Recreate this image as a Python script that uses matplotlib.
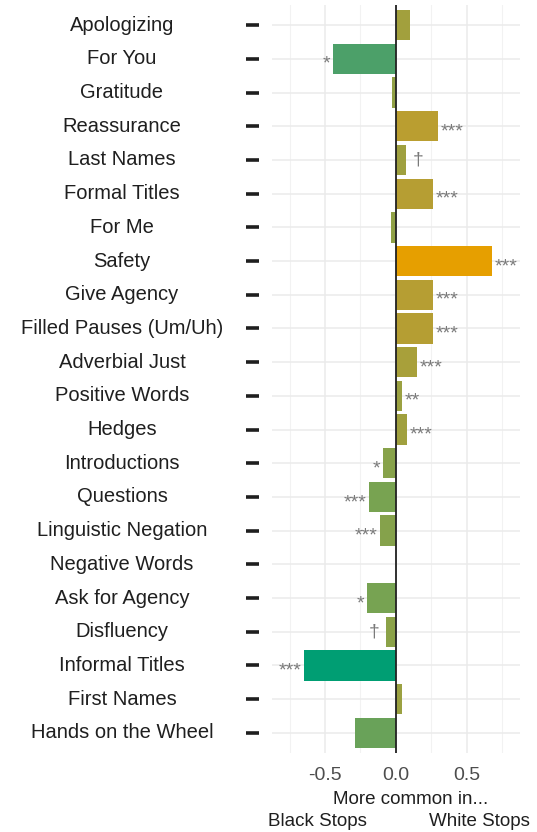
import numpy as np
import matplotlib.pyplot as plt
from matplotlib.colors import LinearSegmentedColormap, Normalize
import matplotlib.transforms as mtransforms

plt.rcParams['font.family'] = ['Liberation Sans', 'DejaVu Sans']

features = ["Apologizing", "For You", "Gratitude", "Reassurance", "Last Names",
            "Formal Titles", "For Me", "Safety", "Give Agency",
            "Filled Pauses (Um/Uh)", "Adverbial Just", "Positive Words", "Hedges",
            "Introductions", "Questions", "Linguistic Negation", "Negative Words",
            "Ask for Agency", "Disfluency", "Informal Titles", "First Names",
            "Hands on the Wheel"]
coef = [0.10, -0.44, -0.024, 0.30, 0.07, 0.265, -0.035, 0.68, 0.265,
        0.26, 0.148, 0.042, 0.08, -0.092, -0.19, -0.11, 0.0,
        -0.20, -0.066, -0.645, 0.042, -0.287]
signif = ["", "*", "", "***", "\u2020", "***", "", "***", "***",
          "***", "***", "**", "***", "*", "***", "***", "",
          "*", "\u2020", "***", "", ""]

W, H = 537, 832
fig = plt.figure(figsize=(W / 100, H / 100), dpi=100)
ax = fig.add_axes([272 / W, 1 - 753 / H, 248 / W, 748 / H])

# green (more common at Black stops) -> orange (more common at White stops)
cmap = LinearSegmentedColormap.from_list(
    "bw", [(0.0, "#009E73"), (0.15, "#4BA069"), (0.3, "#70A355"),
           (0.5, "#98A142"), (0.7, "#B89E32"), (1.0, "#E69F00")])
norm = Normalize(min(coef), max(coef))

y = np.arange(len(features))
ax.barh(y, coef, height=0.9, color=cmap(norm(np.array(coef))), zorder=3)
ax.axvline(0, color="#222222", lw=1.3, zorder=4)

# significance markers just past the bar ends
for yi, v, s in zip(y, coef, signif):
    if not s:
        continue
    dagger = s == "\u2020"
    dx = 5 if dagger else 2
    dy = 0 if dagger else -4
    if v >= 0:
        ax.annotate(s, (v, yi), xytext=(dx, dy), textcoords="offset points",
                    ha="left", va="center", color="#7a7a7a", fontsize=14,
                    zorder=5)
    else:
        ax.annotate(s, (v, yi), xytext=(-dx, dy), textcoords="offset points",
                    ha="right", va="center", color="#7a7a7a", fontsize=14,
                    zorder=5)

ax.set_xlim(-0.874, 0.877)
ax.set_ylim(len(features) - 0.4, -0.6)

ax.set_xticks([-0.5, 0.0, 0.5])
ax.set_xticklabels(["-0.5", "0.0", "0.5"])
ax.set_xticks([-0.75, -0.25, 0.25, 0.75], minor=True)
ax.set_yticks(y)
ax.set_yticklabels([])
ax.tick_params(axis="both", which="both", length=0)
ax.tick_params(axis="x", labelsize=14, labelcolor="#4d4d4d", pad=10)

ax.grid(True, which="major", color="#ebebeb", lw=1.1, zorder=0)
ax.grid(True, which="minor", axis="x", color="#f2f2f2", lw=0.8, zorder=0)
ax.set_axisbelow(True)
for sp in ax.spines.values():
    sp.set_visible(False)

# category names and the short dashes beside them
trans = mtransforms.blended_transform_factory(ax.transAxes, ax.transData)
for yi, name in zip(y, features):
    ax.text(-0.605, yi, name, transform=trans, ha="center", va="center",
            fontsize=14.5, color="#1f1f1f")
    ax.plot([-0.105, -0.052], [yi, yi], transform=trans, color="#1f1f1f",
            lw=2.6, solid_capstyle="butt", clip_on=False)

fig.text(411 / W, 1 - 800 / H, "More common in...", ha="center", va="center",
         fontsize=13.5, color="#1f1f1f")
fig.text(268 / W, 1 - 822 / H, "Black Stops", ha="left", va="center",
         fontsize=13.5, color="#1f1f1f")
fig.text(530 / W, 1 - 822 / H, "White Stops", ha="right", va="center",
         fontsize=13.5, color="#1f1f1f")

fig.savefig("out.png", dpi=100)
